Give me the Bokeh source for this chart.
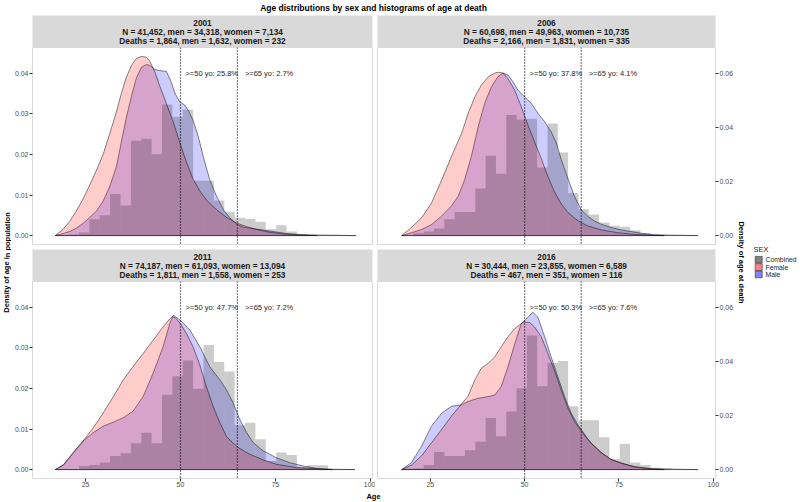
from bokeh.plotting import figure
from bokeh.models import Range1d, LinearAxis, FixedTicker, Span, PrintfTickFormatter
from bokeh.layouts import row, column
from bokeh.embed import file_html
from bokeh.resources import INLINE
from bokeh.core.properties import value

FONT = "Liberation Sans"

# ---------------- data ----------------
TITLE = "Age distributions by sex and histograms of age at death"
YEARS = ["2001", "2006", "2011", "2016"]
N_LINES = ["N = 41,452, men = 34,318, women = 7,134",
           "N = 60,698, men = 49,963, women = 10,735",
           "N = 74,187, men = 61,093, women = 13,094",
           "N = 30,444, men = 23,855, women = 6,589"]
DEATH_LINES = ["Deaths = 1,864, men = 1,632, women = 232",
               "Deaths = 2,166, men = 1,831, women = 335",
               "Deaths = 1,811, men = 1,558, women = 253",
               "Deaths = 467, men = 351, women = 116"]
PCT50 = ["25.8%", "37.8%", "47.7%", "50.3%"]
PCT65 = ["2.7%", "4.1%", "7.2%", "7.6%"]
THRESHOLDS = [50, 65]
X_TICKS = [25, 50, 75, 100]
Y_TICKS_POP = [0.00, 0.01, 0.02, 0.03, 0.04]
Y_TICKS_DEATH = [0.00, 0.02, 0.04, 0.06]
SEC_FACTOR = 1.5
LEGEND_LABELS = ["Combined", "Female", "Male"]

BIN_WIDTH = 2.735
BIN_CENTERS = [16.41, 19.15, 21.88, 24.62, 27.35, 30.09, 32.82, 35.56, 38.29, 41.03,
               43.76, 46.50, 49.23, 51.97, 54.70, 57.44, 60.17, 62.91, 65.64, 68.38,
               71.11, 73.85, 76.58, 79.32, 82.05, 84.79, 87.52, 90.26, 92.99, 95.73]
HIST_2001 = [0, 0, 0.0004, 0.0011, 0.0060, 0.0075, 0.0154, 0.0111, 0.0351, 0.0358,
             0.0301, 0.0485, 0.0440, 0.0467, 0.0203, 0.0203, 0.0130, 0.0088, 0.0066, 0.0062,
             0.0051, 0.0023, 0.0038, 0.0015, 0.0005, 0, 0, 0, 0, 0]
HIST_2006 = [0, 0, 0.0009, 0.0015, 0.0026, 0.0060, 0.0087, 0.0087, 0.0174, 0.0295,
             0.0229, 0.0446, 0.0430, 0.0432, 0.0252, 0.0415, 0.0307, 0.0158, 0.0097, 0.0078,
             0.0048, 0.0036, 0.0033, 0.0020, 0.0009, 0.0003, 0, 0, 0, 0]
HIST_2011 = [0, 0, 0, 0.0013, 0.0017, 0.0026, 0.0050, 0.0060, 0.0097, 0.0136,
             0.0097, 0.0277, 0.0345, 0.0404, 0.0299, 0.0461, 0.0398, 0.0363, 0.0164, 0.0173,
             0.0112, 0.0032, 0.0063, 0.0054, 0.0010, 0.0016, 0.0016, 0, 0, 0]
HIST_2016 = [0, 0.0004, 0.0005, 0.0017, 0.0065, 0.0050, 0.0050, 0.0072, 0.0103, 0.0191,
             0.0123, 0.0215, 0.0301, 0.0496, 0.0308, 0.0394, 0.0402, 0.0234, 0.0183, 0.0183,
             0.0120, 0.0038, 0.0096, 0.0026, 0.0017, 0.0007, 0.0005, 0, 0, 0]

F01_AGE = [17.0, 19.0, 20.8, 22.5, 24.3, 26.1, 27.8, 29.6, 31.3, 33.1, 34.4, 35.7, 37.1, 38.4,
           39.7, 41.0, 41.9, 43.2, 44.5, 46.3, 48.1, 49.8, 51.6, 53.3, 55.1, 56.9, 59.5, 62.1,
           64.8, 67.4, 70.1, 73.6, 78.0, 82.4, 86.0]
F01_DEN = [0, 0.0015, 0.0035, 0.0060, 0.0090, 0.0125, 0.0160, 0.0200, 0.0250, 0.0305, 0.0350,
           0.0390, 0.0420, 0.0437, 0.0442, 0.0440, 0.0430, 0.0405, 0.0370, 0.0325, 0.0280, 0.0230,
           0.0180, 0.0140, 0.0110, 0.0087, 0.0064, 0.0045, 0.0031, 0.0022, 0.0015, 0.0008, 0.0003,
           0.0001, 0]
M01_AGE = [17.0, 19.0, 20.8, 22.5, 24.3, 26.1, 27.8, 29.6, 31.3, 33.1, 34.4, 35.7, 37.1, 38.4,
           39.7, 41.0, 41.9, 43.2, 44.5, 46.3, 47.5, 48.6, 49.8, 51.1, 52.0, 53.3, 54.7, 56.0,
           57.7, 59.5, 61.3, 63.0, 64.8, 66.5, 70.0, 73.6, 78.0, 82.4, 90.0, 96.3]
M01_DEN = [0, 0.0005, 0.0010, 0.0018, 0.0030, 0.0045, 0.0060, 0.0085, 0.0120, 0.0170, 0.0230,
           0.0290, 0.0345, 0.0390, 0.0415, 0.0422, 0.0420, 0.0410, 0.0407, 0.0405, 0.0380, 0.0350,
           0.0330, 0.0322, 0.0310, 0.0285, 0.0244, 0.0195, 0.0138, 0.0097, 0.0064, 0.0044, 0.0028,
           0.0021, 0.0016, 0.0011, 0.0005, 0.0002, 0.0001, 0]

F06_AGE = [17.4, 20.0, 22.7, 25.3, 28.0, 30.6, 33.3, 35.0, 36.8, 38.5, 40.3, 42.1, 43.0, 44.3,
           45.6, 47.4, 49.1, 50.9, 52.6, 54.4, 56.2, 57.9, 59.7, 61.5, 63.2, 65.0, 66.7, 70.3,
           74.7, 79.1, 83.5, 87.0]
F06_DEN = [0, 0.0020, 0.0044, 0.0080, 0.0137, 0.0195, 0.0252, 0.0301, 0.0342, 0.0371, 0.0391,
           0.0401, 0.0403, 0.0401, 0.0387, 0.0358, 0.0318, 0.0272, 0.0232, 0.0190, 0.0145, 0.0108,
           0.0078, 0.0057, 0.0043, 0.0032, 0.0024, 0.0014, 0.0007, 0.0003, 0.0001, 0]
M06_AGE = [17.4, 20.0, 22.7, 25.3, 28.0, 30.6, 32.4, 34.1, 35.9, 37.7, 39.4, 41.2, 43.0, 44.3,
           45.6, 46.9, 48.2, 50.0, 51.8, 53.5, 55.3, 57.0, 58.4, 59.7, 61.5, 63.2, 65.0, 66.7,
           68.5, 70.3, 72.9, 75.6, 78.2, 80.8, 84.4, 90.0, 96.0]
M06_DEN = [0, 0.0007, 0.0015, 0.0027, 0.0048, 0.0073, 0.0097, 0.0138, 0.0196, 0.0269, 0.0326,
           0.0367, 0.0393, 0.0401, 0.0396, 0.0380, 0.0359, 0.0342, 0.0326, 0.0302, 0.0281, 0.0257,
           0.0229, 0.0188, 0.0140, 0.0097, 0.0064, 0.0048, 0.0036, 0.0028, 0.0020, 0.0014, 0.0010,
           0.0006, 0.0002, 0.0001, 0]

F11_AGE = [17.0, 19.1, 21.7, 24.3, 27.0, 29.6, 32.3, 34.9, 37.5, 40.2, 42.8, 45.4, 47.2, 47.8,
           48.6, 50.0, 51.6, 53.3, 55.1, 56.8, 58.6, 60.4, 62.1, 63.9, 65.6, 68.2, 71.8, 75.3,
           80.5, 85.8, 90.0]
F11_DEN = [0, 0.0011, 0.0042, 0.0070, 0.0103, 0.0139, 0.0180, 0.0221, 0.0254, 0.0287, 0.0319,
           0.0352, 0.0372, 0.0377, 0.0375, 0.0360, 0.0335, 0.0303, 0.0258, 0.0205, 0.0156, 0.0115,
           0.0082, 0.0065, 0.0052, 0.0038, 0.0024, 0.0013, 0.0005, 0.0002, 0]
M11_AGE = [17.0, 19.1, 21.7, 24.3, 27.0, 29.6, 32.3, 34.9, 37.5, 40.2, 42.8, 45.4, 47.2, 48.1,
           50.0, 52.5, 55.1, 57.7, 60.4, 62.1, 63.9, 65.6, 67.4, 69.1, 71.8, 75.3, 78.8, 82.3,
           85.8, 89.3, 96.0]
M11_DEN = [0, 0.0011, 0.0040, 0.0070, 0.0091, 0.0107, 0.0117, 0.0128, 0.0144, 0.0181, 0.0238,
           0.0303, 0.0361, 0.0381, 0.0368, 0.0344, 0.0303, 0.0254, 0.0221, 0.0197, 0.0164, 0.0124,
           0.0092, 0.0067, 0.0046, 0.0029, 0.0017, 0.0009, 0.0003, 0.0001, 0]

F16_AGE = [17.4, 20.0, 22.7, 25.3, 28.0, 30.6, 32.4, 35.0, 36.8, 38.5, 40.3, 42.1, 43.8, 45.6,
           47.4, 49.1, 50.0, 51.3, 52.6, 54.4, 56.2, 57.9, 59.7, 61.5, 63.2, 65.0, 66.7, 68.5,
           70.3, 72.9, 75.6, 79.1, 83.5, 87.0]
F16_DEN = [0, 0.0011, 0.0034, 0.0066, 0.0099, 0.0132, 0.0152, 0.0181, 0.0221, 0.0250, 0.0262,
           0.0278, 0.0303, 0.0328, 0.0348, 0.0360, 0.0364, 0.0363, 0.0352, 0.0328, 0.0286, 0.0245,
           0.0196, 0.0151, 0.0119, 0.0095, 0.0075, 0.0058, 0.0042, 0.0025, 0.0016, 0.0007, 0.0002, 0]
M16_AGE = [17.4, 20.0, 22.7, 25.3, 28.0, 30.6, 33.3, 35.0, 37.7, 40.3, 42.1, 43.8, 45.6, 47.4,
           49.1, 50.9, 52.2, 53.5, 55.3, 57.0, 58.8, 60.6, 62.3, 64.1, 65.9, 67.6, 70.3, 72.9,
           75.6, 79.1, 83.5, 90.0, 96.0]
M16_DEN = [0, 0.0017, 0.0058, 0.0107, 0.0139, 0.0156, 0.0160, 0.0168, 0.0176, 0.0180, 0.0184,
           0.0205, 0.0254, 0.0311, 0.0360, 0.0376, 0.0388, 0.0376, 0.0328, 0.0279, 0.0229, 0.0180,
           0.0140, 0.0111, 0.0087, 0.0065, 0.0042, 0.0025, 0.0016, 0.0007, 0.0002, 0.0001, 0]

HISTS = [HIST_2001, HIST_2006, HIST_2011, HIST_2016]
F_AGES = [F01_AGE, F06_AGE, F11_AGE, F16_AGE]
F_DENS = [F01_DEN, F06_DEN, F11_DEN, F16_DEN]
M_AGES = [M01_AGE, M06_AGE, M11_AGE, M16_AGE]
M_DENS = [M01_DEN, M06_DEN, M11_DEN, M16_DEN]

# ---------------- styling / layout ----------------
X_RANGE = (11.0, 100.6)
Y_RANGE = (-0.0022, 0.0464)
STRIP_BG = "#D9D9D9"
BORDER = "#D9D9D9"
HIST_COLOR = "black"
F_COLOR = "red"
M_COLOR = "blue"
KEY_COLORS = ["#838383", "#FF8383", "#8383FF"]
TXT = "#262626"

TITLE_H = 15
STRIP_H = 32
FH = 197
VGAP = 5
BOT_AX = 12
XLAB_H = 11
TOTAL_H = TITLE_H + 2 * STRIP_H + 2 * FH + VGAP + BOT_AX + XLAB_H   # 501
YLAB_W = 11
LEFT_AX = 20
FW = 341
L_PAD_R = 3
R_PAD_L = 2
RIGHT_AX = 18
YLAB2_W = 9
LEG_W = 55
LEFT_W = LEFT_AX + FW + L_PAD_R
RIGHT_W = R_PAD_L + FW + RIGHT_AX
MID_W = LEFT_W + RIGHT_W


def blank(w, h, bg="white"):
    f = figure(width=w, height=h, x_range=Range1d(0, w), y_range=Range1d(0, h),
               toolbar_location=None, output_backend="svg", min_border=0,
               x_axis_location=None, y_axis_location=None)
    f.grid.visible = False
    f.outline_line_color = None
    f.background_fill_color = bg
    f.border_fill_color = "white"
    return f


def style_axis(ax, standoff=1):
    ax.axis_line_color = None
    ax.major_tick_line_color = "#333333"
    ax.major_tick_out = 3
    ax.major_tick_in = 0
    ax.minor_tick_line_color = None
    ax.major_label_text_font = FONT
    ax.major_label_text_font_size = "7px"
    ax.major_label_text_color = "#4D4D4D"
    ax.major_label_standoff = standoff


def make_strip(i):
    left = i % 2 == 0
    w = LEFT_W if left else RIGHT_W
    f = figure(width=w, height=STRIP_H, x_range=Range1d(0, 1), y_range=Range1d(0, STRIP_H),
               toolbar_location=None, output_backend="svg",
               min_border_left=LEFT_AX if left else R_PAD_L,
               min_border_right=L_PAD_R if left else RIGHT_AX,
               min_border_top=0, min_border_bottom=0,
               x_axis_location=None, y_axis_location=None)
    f.grid.visible = False
    f.outline_line_color = None
    f.background_fill_color = STRIP_BG
    f.border_fill_color = "white"
    lines = [YEARS[i], N_LINES[i], DEATH_LINES[i]]
    ys = [24.7, 15.7, 6.2]
    f.text(x=[0.5] * 3, y=ys, text=lines, text_font=value(FONT), text_font_style="bold",
           text_font_size=value("8.3px"), text_color="#1A1A1A", text_align="center",
           text_baseline="middle")
    return f


def make_panel(i):
    left = i % 2 == 0
    bottom = i // 2 == 1
    w = LEFT_W if left else RIGHT_W
    h = FH + (BOT_AX if bottom else VGAP)
    p = figure(width=w, height=h, x_range=Range1d(*X_RANGE), y_range=Range1d(*Y_RANGE),
               toolbar_location=None, output_backend="svg",
               x_axis_location="below" if bottom else None,
               y_axis_location="left" if left else None,
               min_border_left=LEFT_AX if left else R_PAD_L,
               min_border_right=L_PAD_R if left else RIGHT_AX,
               min_border_top=0, min_border_bottom=BOT_AX if bottom else VGAP)
    p.extra_y_ranges = {"death": Range1d(Y_RANGE[0] * SEC_FACTOR, Y_RANGE[1] * SEC_FACTOR)}
    p.grid.visible = False
    p.outline_line_color = BORDER
    p.outline_line_width = 1
    p.background_fill_color = "white"
    p.border_fill_color = "white"

    lefts = [c - BIN_WIDTH / 2 for c in BIN_CENTERS]
    rights = [c + BIN_WIDTH / 2 for c in BIN_CENTERS]
    p.patch(M_AGES[i], M_DENS[i], fill_color=M_COLOR, fill_alpha=0.2,
            line_color="black", line_width=0.6, line_alpha=0.8)
    p.patch(F_AGES[i], F_DENS[i], fill_color=F_COLOR, fill_alpha=0.2,
            line_color="black", line_width=0.6, line_alpha=0.8)
    p.quad(left=lefts, right=rights, bottom=0, top=HISTS[i], fill_color=HIST_COLOR,
           fill_alpha=0.2, line_color=None, y_range_name="death")

    for t in THRESHOLDS:
        p.add_layout(Span(location=t, dimension="height", line_color="black",
                          line_dash="1 2", line_width=1.2))
    labels = [">=50 yo: " + PCT50[i], ">=65 yo: " + PCT65[i]]
    p.text(x=[THRESHOLDS[0]], y=[0.04], text=[labels[0]], x_offset=5,
           text_font=value(FONT), text_font_size=value("7.5px"), text_color=TXT,
           text_align="left", text_baseline="middle")
    p.text(x=[THRESHOLDS[1]], y=[0.04], text=[labels[1]], x_offset=7.5,
           text_font=value(FONT), text_font_size=value("7.5px"), text_color=TXT,
           text_align="left", text_baseline="middle")

    if left:
        ax = p.yaxis[0]
        ax.ticker = FixedTicker(ticks=Y_TICKS_POP)
        ax.formatter = PrintfTickFormatter(format="%.2f")
        style_axis(ax)
    else:
        ax = LinearAxis(y_range_name="death", ticker=FixedTicker(ticks=Y_TICKS_DEATH),
                        formatter=PrintfTickFormatter(format="%.2f"))
        style_axis(ax)
        p.add_layout(ax, "right")
    if bottom:
        ax = p.xaxis[0]
        ax.ticker = FixedTicker(ticks=X_TICKS)
        style_axis(ax, standoff=0)
    return p


# title and x label (centred on the panel area)
CENTER_X = 373 - YLAB_W
title_fig = blank(MID_W, TITLE_H)
title_fig.text(x=[CENTER_X], y=[TITLE_H - 7.5], text=[TITLE], text_font=value(FONT),
               text_font_style="bold", text_font_size=value("8.5px"), text_color="black",
               text_align="center", text_baseline="middle")
xlab_fig = blank(MID_W, XLAB_H)
xlab_fig.text(x=[CENTER_X], y=[XLAB_H - 5.2], text=["Age"], text_font=value(FONT),
              text_font_style="bold", text_font_size=value("7.5px"), text_color="black",
              text_align="center", text_baseline="middle")

# y-axis titles
LABEL_Y = TOTAL_H - 262.0
ylab_fig = blank(YLAB_W, TOTAL_H)
ylab_fig.text(x=[6.5], y=[LABEL_Y], text=["Density of age in population"],
              angle=1.5707963, text_font=value(FONT), text_font_style="bold",
              text_font_size=value("7.5px"), text_color="black", text_align="center",
              text_baseline="middle")
ylab2_fig = blank(YLAB2_W, TOTAL_H)
ylab2_fig.text(x=[4.5], y=[LABEL_Y], text=["Density of age at death"],
               angle=-1.5707963, text_font=value(FONT), text_font_style="bold",
               text_font_size=value("7.5px"), text_color="black", text_align="center",
               text_baseline="middle")

# legend
leg = blank(LEG_W, TOTAL_H)
leg.text(x=[8], y=[TOTAL_H - 249.0], text=["SEX"], text_font=value(FONT),
         text_font_size=value("7.5px"), text_color=TXT, text_align="left",
         text_baseline="middle")
key_y = [TOTAL_H - 259.3, TOTAL_H - 266.6, TOTAL_H - 273.9]
leg.rect(x=[13.2] * 3, y=key_y, width=7, height=6.7, fill_color=KEY_COLORS,
         line_color="#333333", line_width=0.6)
leg.text(x=[20] * 3, y=key_y, text=LEGEND_LABELS, text_font=value(FONT),
         text_font_size=value("6.8px"), text_color=TXT, text_align="left",
         text_baseline="middle")

left_col = column(make_strip(0), make_panel(0), make_strip(2), make_panel(2))
right_col = column(make_strip(1), make_panel(1), make_strip(3), make_panel(3))
mid = column(title_fig, row(left_col, right_col), xlab_fig)
layout = row(ylab_fig, mid, ylab2_fig, leg)

open("out.html", "w").write(file_html(layout, INLINE, title=TITLE))
